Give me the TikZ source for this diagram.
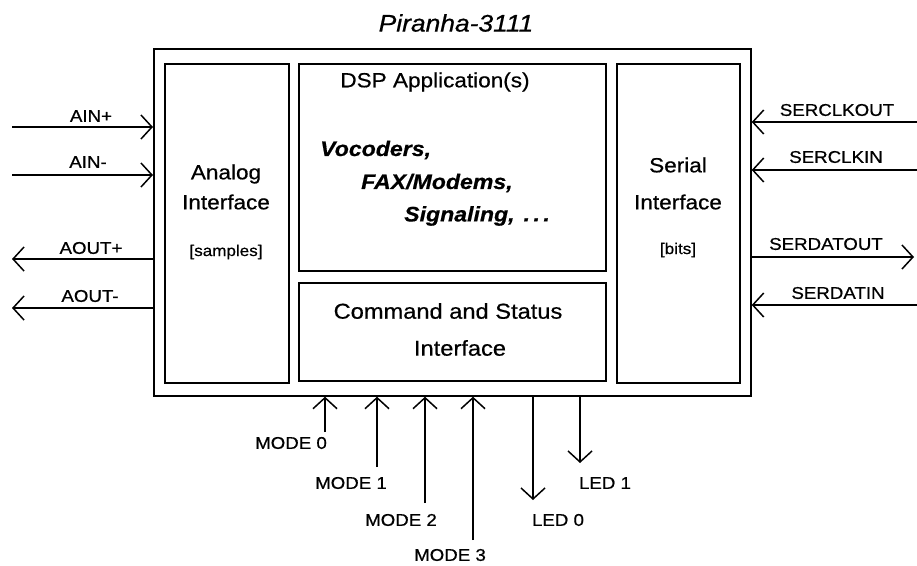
\documentclass[tikz,border=0pt]{standalone}
\usepackage{fontspec}
\setmainfont{Liberation Sans}[FakeStretch=1.1, FakeBold=0.6]
\usetikzlibrary{arrows.meta}
\begin{document}
\begin{tikzpicture}[x=1pt,y=-1pt,
  box/.style={draw, line width=1.7pt, inner sep=0pt, anchor=north west},
  arr/.style={line width=1.5pt, -{Straight Barb[length=11pt,width=24pt,line width=1.5pt]}},
  lbl/.style={inner sep=0pt, font=\fontsize{17}{19}\selectfont},
  big/.style={inner sep=0pt, font=\fontsize{20.5}{23}\selectfont},
  small/.style={inner sep=0pt, font=\fontsize{15.5}{18}\selectfont},
  ital/.style={inner sep=0pt, anchor=west, font=\fontsize{21}{24}\selectfont\bfseries\itshape}]
\useasboundingbox (0,0) rectangle (917,565);
% boxes
\node[box, minimum width=597pt, minimum height=347pt] (outer) at (153,48) {};
\node[box, minimum width=124pt, minimum height=319pt] (analog) at (164,63) {};
\node[box, minimum width=307pt, minimum height=207pt] (dsp) at (298,63) {};
\node[box, minimum width=307pt, minimum height=98pt] (cmd) at (298,282) {};
\node[box, minimum width=123pt, minimum height=319pt] (serial) at (616,63) {};
% title
\node[inner sep=0pt, font=\fontsize{24}{27}\selectfont\itshape] (title) at (456,23) {Piranha-3111};
% analog text
\node[big] (an1) at (226,174) {Analog};
\node[big] (an2) at (226,202) {Interface};
\node[small] (an3) at (226,252) {[samples]};
% serial text
\node[big] (se1) at (678,165) {Serial};
\node[big] (se2) at (678,202) {Interface};
\node[small] (se3) at (678,250) {[bits]};
% dsp text
\node[big, font=\fontsize{20.5}{24}\selectfont] (dsp1) at (435,82) {DSP Application(s)};
\node[ital] (v1) at (320,150) {Vocoders,};
\node[ital] (v2) at (361,183) {FAX/Modems,};
\node[ital] (v3) at (404,216) {Signaling,\hspace{9pt}.\kern3.5pt.\kern3.5pt.};
% command text
\node[big, font=\fontsize{21.5}{24}\selectfont] (c1) at (448,311) {Command and Status};
\node[big, font=\fontsize{21.5}{24}\selectfont] (c2) at (460,348) {Interface};
% left signals
\coordinate (ainp) at (12,127);
\coordinate (ainm) at (12,175);
\coordinate (aoutp) at (12,259);
\coordinate (aoutm) at (12,308);
\draw[arr] (ainp) -- (outer.west |- ainp);
\draw[arr] (ainm) -- (outer.west |- ainm);
\draw[arr] (outer.west |- aoutp) -- (aoutp);
\draw[arr] (outer.west |- aoutm) -- (aoutm);
\node[lbl] (l1) at (91,116) {AIN+};
\node[lbl] (l2) at (88,162) {AIN-};
\node[lbl] (l3) at (91,248) {AOUT+};
\node[lbl] (l4) at (90,296) {AOUT-};
% right signals
\coordinate (sco) at (917,122);
\coordinate (sci) at (917,170);
\coordinate (sdo) at (914,257);
\coordinate (sdi) at (917,305);
\draw[arr] (sco) -- (outer.east |- sco);
\draw[arr] (sci) -- (outer.east |- sci);
\draw[arr] (outer.east |- sdo) -- (sdo);
\draw[arr] (sdi) -- (outer.east |- sdi);
\node[lbl] (r1) at (837,110) {SERCLKOUT};
\node[lbl] (r2) at (836,157) {SERCLKIN};
\node[lbl] (r3) at (826,244) {SERDATOUT};
\node[lbl] (r4) at (838,293) {SERDATIN};
% bottom signals
\coordinate (m0) at (325,432);
\coordinate (m1) at (377,467);
\coordinate (m2) at (425,503);
\coordinate (m3) at (473,540);
\coordinate (le0) at (533,500);
\coordinate (le1) at (580,463);
\draw[arr] (m0) -- (outer.south -| m0);
\draw[arr] (m1) -- (outer.south -| m1);
\draw[arr] (m2) -- (outer.south -| m2);
\draw[arr] (m3) -- (outer.south -| m3);
\draw[arr] (outer.south -| le0) -- (le0);
\draw[arr] (outer.south -| le1) -- (le1);
\node[lbl] (b0) at (291,443) {MODE 0};
\node[lbl] (b1) at (351,483) {MODE 1};
\node[lbl] (b2) at (401,520) {MODE 2};
\node[lbl] (b3) at (450,555) {MODE 3};
\node[lbl] (b4) at (558,520) {LED 0};
\node[lbl] (b5) at (605,483) {LED 1};
\end{tikzpicture}
\end{document}
